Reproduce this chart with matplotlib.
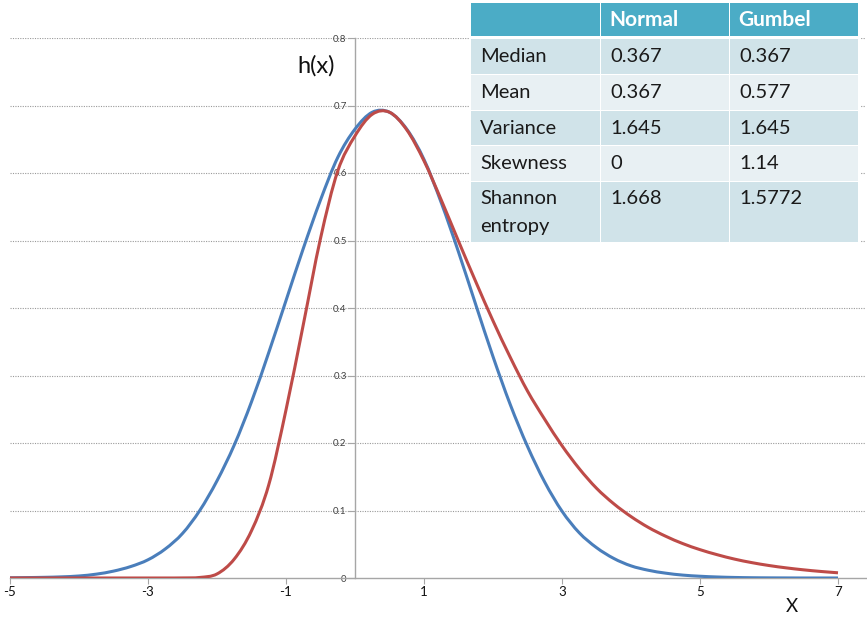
import matplotlib
matplotlib.use("Agg")
import matplotlib.pyplot as plt
from matplotlib.path import Path
from matplotlib.patches import PathPatch, Rectangle
import numpy as np

plt.rcParams['font.family'] = ['Lato', 'DejaVu Sans']

# ---- data -------------------------------------------------------------
x_vals = [-5.00, -4.75, -4.50, -4.25, -4.00, -3.75, -3.50, -3.25, -3.00,
          -2.75, -2.50, -2.25, -2.00, -1.75, -1.50, -1.25, -1.00, -0.75,
          -0.50, -0.25, 0.00, 0.25, 0.50, 0.75, 1.00, 1.25, 1.50, 1.75,
          2.00, 2.25, 2.50, 2.75, 3.00, 3.25, 3.50, 3.75, 4.00, 4.25,
          4.50, 4.75, 5.00, 5.25, 5.50, 5.75, 6.00, 6.25, 6.50, 6.75, 7.00]

normal_h = [0.0003, 0.0006, 0.001, 0.0017, 0.003, 0.0057, 0.0102, 0.017, 0.027,
            0.043, 0.066, 0.100, 0.144, 0.197, 0.261, 0.334, 0.411, 0.488,
            0.560, 0.623, 0.665, 0.690, 0.690, 0.665, 0.620, 0.556, 0.483, 0.405,
            0.328, 0.257, 0.195, 0.142, 0.099, 0.067, 0.045, 0.029, 0.018, 0.0115,
            0.0072, 0.0043, 0.0026, 0.0015, 0.0008, 0.0004, 0.0002, 0.0001, 0.0,
            0.0, 0.0]

gumbel_h = [0.0, 0.0, 0.0, 0.0, 0.0, 0.0, 0.0, 0.0, 0.0,
            0.0, 0.0001, 0.0008, 0.006, 0.028, 0.070, 0.138, 0.249, 0.375,
            0.503, 0.603, 0.655, 0.687, 0.690, 0.664, 0.618, 0.560, 0.499, 0.439,
            0.381, 0.327, 0.277, 0.235, 0.196, 0.162, 0.133, 0.110, 0.091, 0.075,
            0.062, 0.051, 0.042, 0.0345, 0.028, 0.0228, 0.0185, 0.015, 0.0121,
            0.0097, 0.0077]

x_ticks = [-5, -3, -1, 1, 3, 5, 7]
x_tick_labels = ['-5', '-3', '-1', '1', '3', '5', '7']
y_ticks = [0, 0.1, 0.2, 0.3, 0.4, 0.5, 0.6, 0.7, 0.8]
y_tick_labels = ['0', '0.1', '0.2', '0.3', '0.4', '0.5', '0.6', '0.7', '0.8']

table_cols = ['', 'Normal', 'Gumbel']
table_rows = ['Median', 'Mean', 'Variance', 'Skewness', 'Shannon\nentropy']
normal_stats = ['0.367', '0.367', '1.645', '0', '1.668']
gumbel_stats = ['0.367', '0.577', '1.645', '1.14', '1.5772']

BLUE = '#4A7EBB'
RED = '#BE4B48'


def smooth_path(xs, ys):
    """Smoothed polyline (Catmull-Rom style Bezier segments) through the points."""
    pts = np.column_stack([xs, ys]).astype(float)
    n = len(pts)
    verts = [pts[0]]
    codes = [Path.MOVETO]
    for i in range(n - 1):
        p0 = pts[i - 1] if i > 0 else pts[i]
        p1 = pts[i]
        p2 = pts[i + 1]
        p3 = pts[i + 2] if i + 2 < n else pts[i + 1]
        c1 = p1 + (p2 - p0) / 6.0
        c2 = p2 - (p3 - p1) / 6.0
        verts += [c1, c2, p2]
        codes += [Path.CURVE4] * 3
    return Path(verts, codes)


W, H = 867, 617
fig = plt.figure(figsize=(W / 100, H / 100), dpi=100)
fig.patch.set_facecolor('white')

x_left_px, x_right_px = 10, 866
y_bottom_px, y_top_px = 578, 38
ax = fig.add_axes([x_left_px / W, 1 - y_bottom_px / H,
                   (x_right_px - x_left_px) / W, (y_bottom_px - y_top_px) / H])
ax.set_xlim(-5, 7 + (x_right_px - 838) / 69.0)
ax.set_ylim(0, 0.8)

# gridlines
for yv in y_ticks[1:]:
    ax.axhline(yv, color='#9A9A9A', lw=0.8, ls=(0, (1, 1.2)), zorder=0)

# axes
for s in ['top', 'right']:
    ax.spines[s].set_visible(False)
ax.spines['left'].set_position(('data', 0))
ax.spines['left'].set_color('#A6A6A6')
ax.spines['bottom'].set_color('#A6A6A6')
ax.spines['left'].set_linewidth(1.0)
ax.spines['bottom'].set_linewidth(1.0)

ax.set_xticks(x_ticks)
ax.set_xticklabels(x_tick_labels, fontsize=9.5, color='#111111')
ax.set_yticks(y_ticks)
ax.set_yticklabels(y_tick_labels, fontsize=7, color='#404040')
ax.tick_params(axis='x', direction='out', length=4, width=0.8, color='#A6A6A6', pad=2)
ax.tick_params(axis='y', direction='out', length=5, width=0.8, color='#A6A6A6', pad=1)
ax.patch.set_alpha(0)

# curves
for ys, col in [(normal_h, BLUE), (gumbel_h, RED)]:
    ax.add_patch(PathPatch(smooth_path(x_vals, ys), fill=False, edgecolor=col,
                           lw=2.2, capstyle='butt', joinstyle='round', zorder=3))

# overlay in pixel coordinates for the labels and the table
ov = fig.add_axes([0, 0, 1, 1])
ov.set_xlim(0, W)
ov.set_ylim(H, 0)
ov.axis('off')
ov.patch.set_visible(False)

ov.text(316, 66, 'h(x)', fontsize=17, ha='center', va='center', color='#111111')
ov.text(792, 606, 'X', fontsize=13.5, ha='center', va='center', color='#111111')

col_edges = [(471, 599.5), (601, 728.5), (730, 858)]
row_edges = [(3, 36), (39, 74), (75, 109.5), (110.5, 144.5), (146, 180.5), (181.5, 242)]
HEAD = '#4BACC6'
BAND_DARK = '#D0E3E9'
BAND_LIGHT = '#E8F0F3'
FS = 14.5

ov.add_patch(Rectangle((469, 1), 391, 243, facecolor='white', edgecolor='none', zorder=1))
for ri, (y0, y1) in enumerate(row_edges):
    if ri == 0:
        fc = HEAD
    else:
        fc = BAND_DARK if ri % 2 == 1 else BAND_LIGHT
    for (x0, x1) in col_edges:
        ov.add_patch(Rectangle((x0, y0), x1 - x0, y1 - y0, facecolor=fc,
                               edgecolor='none', zorder=2))

pad = 9
for ci, name in enumerate(table_cols):
    if name:
        ov.text(col_edges[ci][0] + pad - 1, (row_edges[0][0] + row_edges[0][1]) / 2 + 0.5,
                name, fontsize=FS + 0.5, fontweight='bold', color='white',
                ha='left', va='center', zorder=3)

for ri, label in enumerate(table_rows):
    y0, y1 = row_edges[ri + 1]
    cells = [label, normal_stats[ri], gumbel_stats[ri]]
    for ci, txt in enumerate(cells):
        if '\n' in label:
            ty = y0 + 16.5
            for li, line in enumerate(txt.split('\n')):
                ov.text(col_edges[ci][0] + pad, ty + li * 28.5, line, fontsize=FS,
                        color='#1A1A1A', ha='left', va='center', zorder=3)
        else:
            ov.text(col_edges[ci][0] + pad, (y0 + y1) / 2 + 0.5, txt, fontsize=FS,
                    color='#1A1A1A', ha='left', va='center', zorder=3)

fig.savefig('out.png', dpi=100, facecolor='white')
